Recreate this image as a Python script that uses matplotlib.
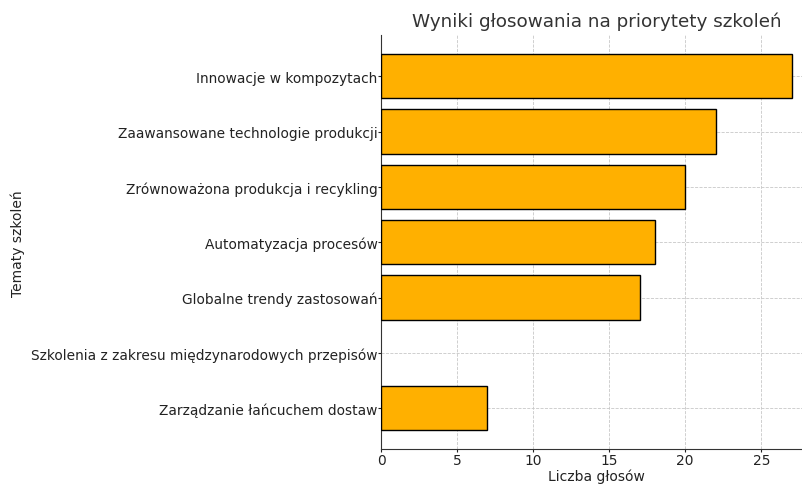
import matplotlib.pyplot as plt

topics = [
    "Innowacje w kompozytach",
    "Zaawansowane technologie produkcji",
    "Zrównoważona produkcja i recykling",
    "Automatyzacja procesów",
    "Globalne trendy zastosowań",
    "Szkolenia z zakresu międzynarodowych przepisów",
    "Zarządzanie łańcuchem dostaw",
]
votes = [27, 22, 20, 18, 17, 0, 7]

fig = plt.figure(figsize=(8.03, 4.85), dpi=100)
ax = fig.add_axes([0.4745, 0.072, 0.537, 0.853])

# zero-vote topics get no outline so no stray line is drawn on the axis
edges = ["black" if v > 0 else "none" for v in votes[::-1]]
ax.barh(topics[::-1], votes[::-1], color="#FFB000", edgecolor=edges, linewidth=1, zorder=3)
ax.grid(True, color="#c8c8c8", linestyle="--", linewidth=0.6, zorder=0)
ax.spines["top"].set_visible(False)
ax.spines["right"].set_visible(False)
for s in ("left", "bottom"):
    ax.spines[s].set_color("#333333")

ax.set_title("Wyniki głosowania na priorytety szkoleń", fontsize=13.2, color="#333333", pad=7)
ax.set_xlabel("Liczba głosów", fontsize=10, color="#222222")
ax.set_ylabel("Tematy szkoleń", fontsize=10, color="#222222")
ax.xaxis.set_label_coords(0.5, -0.048)
ax.yaxis.set_label_coords(-0.826, 0.5)
ax.tick_params(labelsize=9.9, colors="#222222", length=2, pad=0.5)
ax.set_xticks([0, 5, 10, 15, 20, 25])

fig.savefig("out.png", dpi=100)
